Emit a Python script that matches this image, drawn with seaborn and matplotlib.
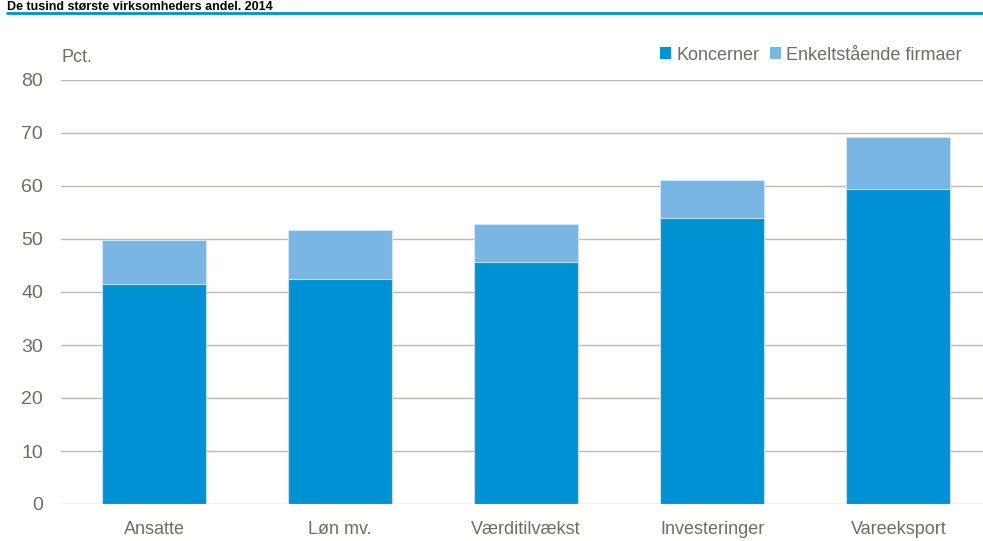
import matplotlib
matplotlib.use("Agg")
import matplotlib.pyplot as plt
import seaborn as sns
import pandas as pd
from matplotlib.patches import Patch
from matplotlib.lines import Line2D

categories = ["Ansatte", "Løn mv.", "Værditilvækst", "Investeringer", "Vareeksport"]
koncerner = [41.5, 42.5, 45.7, 54.0, 59.4]
enkelt = [8.3, 9.2, 7.1, 7.1, 9.8]
totals = [k + e for k, e in zip(koncerner, enkelt)]
yticks = [0, 10, 20, 30, 40, 50, 60, 70, 80]

C_DARK = "#0091D5"
C_LIGHT = "#79B6E3"
TXT = "#6E6E62"
GRID = "#BDBCB0"

sns.set_theme(style="white")
plt.rcParams["font.family"] = ["Liberation Sans Narrow", "Liberation Sans", "DejaVu Sans"]

W, H = 983, 541
fig = plt.figure(figsize=(W / 100, H / 100), dpi=100)
ax = fig.add_axes([61 / W, 1 - 504 / H, (983 - 61) / W, (504 - 80) / H])

df_tot = pd.DataFrame({"kategori": categories, "v": totals})
df_k = pd.DataFrame({"kategori": categories, "v": koncerner})

sns.barplot(data=df_tot, x="kategori", y="v", color=C_LIGHT, saturation=1,
            width=0.56, ax=ax, edgecolor="#CFE6F6", linewidth=0.8, zorder=3)
sns.barplot(data=df_k, x="kategori", y="v", color=C_DARK, saturation=1,
            width=0.56, ax=ax, edgecolor="#BFE0F3", linewidth=0.8, zorder=4)

ax.set_xlim(-0.5, 4.455)
ax.set_ylim(0, 80)
ax.set_yticks(yticks)
ax.set_yticklabels([str(t) for t in yticks])
for t in yticks:
    ax.axhline(t, color=GRID, lw=1.0, zorder=1)
for s in ax.spines.values():
    s.set_visible(False)
ax.set_xlabel("")
ax.set_ylabel("")
ax.tick_params(axis="y", length=0, pad=13, labelsize=14, labelcolor=TXT)
ax.tick_params(axis="x", length=0, pad=12, labelsize=13, labelcolor=TXT)
ax.grid(False)

fig.text(62 / W, 1 - 58 / H, "Pct.", fontsize=13, color=TXT, va="center", ha="left")

handles = [Patch(facecolor=C_DARK, edgecolor="none", label="Koncerner"),
           Patch(facecolor=C_LIGHT, edgecolor="none", label="Enkeltstående firmaer")]
leg = fig.legend(handles=handles, loc="center right", bbox_to_anchor=(978 / W, 1 - 55 / H),
                 ncol=2, frameon=False, fontsize=13, handlelength=0.6, handleheight=0.6,
                 handletextpad=0.3, columnspacing=0.6, labelcolor=TXT)

fig.text(7 / W, 1 - 10.5 / H, "De tusind største virksomheders andel. 2014", fontsize=9,
         fontweight="bold", color="black", va="baseline", ha="left",
         family=["Liberation Sans", "DejaVu Sans"])
fig.add_artist(Line2D([7 / W, 1.0], [1 - 13 / H, 1 - 13 / H], color=C_DARK, lw=2,
                      transform=fig.transFigure))

fig.savefig("out.png", dpi=100)
